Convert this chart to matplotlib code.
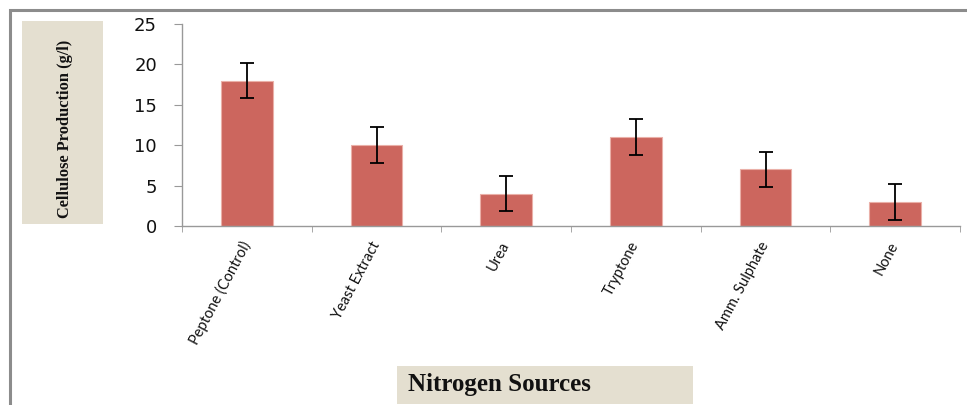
import matplotlib
matplotlib.use("Agg")
import matplotlib.pyplot as plt
from matplotlib.patches import Rectangle
import numpy as np

categories = ["Peptone (Control)", "Yeast Extract", "Urea", "Tryptone", "Amm. Sulphate", "None"]
values = [18, 10, 4, 11, 7, 3]
errors = [2.2, 2.2, 2.2, 2.2, 2.2, 2.2]
yticks = [0, 5, 10, 15, 20, 25]

W, H = 967, 405
fig = plt.figure(figsize=(W / 100, H / 100), dpi=100)

# outer frame (top and left visible)
fig.add_artist(Rectangle((10 / W, -0.1), 1.2, (H - 10) / H + 0.1, transform=fig.transFigure,
                         fill=False, edgecolor="#8c8c8c", linewidth=2.2))

# y-label box
fig.add_artist(Rectangle((22 / W, 1 - 224 / H), 81 / W, 203 / H, transform=fig.transFigure,
                         facecolor="#e4dfd0", edgecolor="none"))
fig.text(65 / W, 1 - 129 / H, "Cellulose Production (g/l)", rotation=90, ha="center", va="center",
         family="Liberation Serif", weight="bold", fontsize=11.8, color="#111111")

# x-label box
fig.add_artist(Rectangle((397 / W, 1 - 404 / H), 296 / W, 38 / H, transform=fig.transFigure,
                         facecolor="#e4dfd0", edgecolor="none"))
fig.text(408 / W, 1 - 385 / H, "Nitrogen Sources", ha="left", va="center",
         family="Liberation Serif", weight="bold", fontsize=18, color="#111111")

ax = fig.add_axes([182 / W, 1 - 226 / H, (960 - 182) / W, (226 - 24) / H])
x = np.arange(len(categories))
ax.bar(x, values, width=0.4, color="#cc665e", edgecolor="#eab0a8", linewidth=0.8, zorder=2)
ax.errorbar(x, values, yerr=errors, fmt="none", ecolor="black", elinewidth=1.3,
            capsize=5, capthick=1.3, zorder=3)

ax.set_xlim(-0.5, len(categories) - 0.5)
ax.set_ylim(0, 25)
ax.set_yticks(yticks)
ax.set_yticklabels([str(v) for v in yticks], family="DejaVu Sans", fontsize=13, color="#111111")
ax.set_xticks(x)
ax.set_xticklabels(categories, rotation=62, ha="right", va="center", rotation_mode="anchor",
                   family="Lato", fontsize=10.5, color="#111111")
ax.set_xticks(np.arange(-0.5, len(categories)), minor=True)
ax.tick_params(axis="x", which="major", length=0, pad=12)
ax.tick_params(axis="x", which="minor", length=4, color="#999999", direction="out")
ax.tick_params(axis="y", length=6, color="#999999", pad=12)

for s in ["top", "right"]:
    ax.spines[s].set_visible(False)
for s in ["left", "bottom"]:
    ax.spines[s].set_color("#999999")
    ax.spines[s].set_linewidth(1.0)

fig.savefig("out.png", dpi=100)
